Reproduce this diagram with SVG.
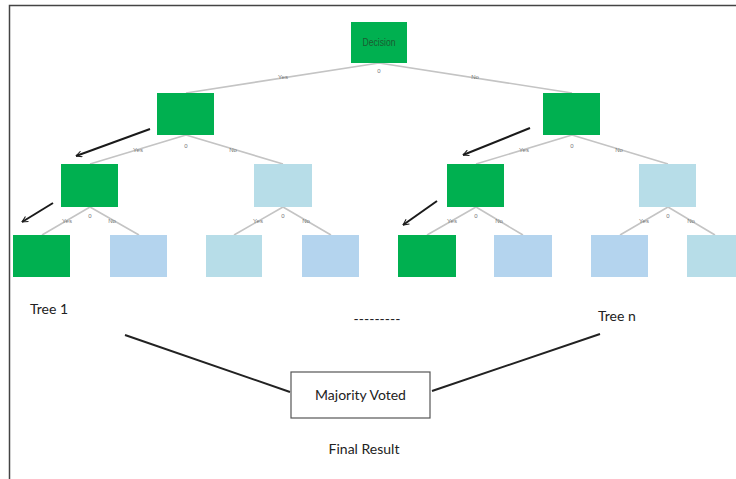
<svg xmlns="http://www.w3.org/2000/svg" width="736" height="479" viewBox="0 0 736 479">
<style>
.g{fill:#00b050}
.c{fill:#b7dde8}
.b{fill:#b4d4ee}
.e{stroke:#c4c4c4;stroke-width:1.6;fill:none}
.lb{font-family:"Liberation Sans",Arial,sans-serif;font-size:6px;fill:#777}
.ar{stroke:#1a1a1a;stroke-width:2;fill:none}
.t{font-family:Lato,"Open Sans",sans-serif;font-size:14px;fill:#222}
</style>
<defs>
<marker id="ah" viewBox="0 0 12 12" refX="11" refY="6" markerWidth="7" markerHeight="7" orient="auto" markerUnits="userSpaceOnUse">
<path d="M1,1 L11,6 L1,11" stroke="#1a1a1a" stroke-width="1.8" fill="none"/>
</marker>
</defs>
<rect width="736" height="479" fill="#fff"/>
<path d="M9.5,479 V5.5 H736" stroke="#444" stroke-width="1.5" fill="none"/>

<g id="connectors">
<path class="e" d="M379,63 L186,93 M379,63 L572,93"/>
<path class="e" d="M186,135 L90,164 M186,135 L283,164"/>
<path class="e" d="M90,207 L42,235 M90,207 L139,235"/>
<path class="e" d="M283,207 L234,235 M283,207 L331,235"/>
<path class="e" d="M572,135 L476,164 M572,135 L668,164"/>
<path class="e" d="M476,207 L427,235 M476,207 L523,235"/>
<path class="e" d="M668,207 L620,235 M668,207 L715,235"/>
<text class="lb" x="283" y="79" text-anchor="middle">Yes</text>
<text class="lb" x="379" y="73" text-anchor="middle">0</text>
<text class="lb" x="475" y="79" text-anchor="middle">No</text>
<text class="lb" x="138" y="152" text-anchor="middle">Yes</text>
<text class="lb" x="186" y="148" text-anchor="middle">0</text>
<text class="lb" x="233" y="152" text-anchor="middle">No</text>
<text class="lb" x="524" y="152" text-anchor="middle">Yes</text>
<text class="lb" x="572" y="148" text-anchor="middle">0</text>
<text class="lb" x="619" y="152" text-anchor="middle">No</text>
<text class="lb" x="67" y="223" text-anchor="middle">Yes</text>
<text class="lb" x="90" y="218" text-anchor="middle">0</text>
<text class="lb" x="112" y="223" text-anchor="middle">No</text>
<text class="lb" x="258" y="223" text-anchor="middle">Yes</text>
<text class="lb" x="283" y="218" text-anchor="middle">0</text>
<text class="lb" x="306" y="223" text-anchor="middle">No</text>
<text class="lb" x="452" y="223" text-anchor="middle">Yes</text>
<text class="lb" x="476" y="218" text-anchor="middle">0</text>
<text class="lb" x="499" y="223" text-anchor="middle">No</text>
<text class="lb" x="644" y="223" text-anchor="middle">Yes</text>
<text class="lb" x="668" y="218" text-anchor="middle">0</text>
<text class="lb" x="691" y="223" text-anchor="middle">No</text>
<path class="ar" d="M150,129 L76,156" marker-end="url(#ah)"/>
<path class="ar" d="M53,203 L22,222" marker-end="url(#ah)"/>
<path class="ar" d="M530,128 L463,155" marker-end="url(#ah)"/>
<path class="ar" d="M437,201 L403,225" marker-end="url(#ah)"/>
<path d="M125,335 L290,392 M432,391 L600,334" stroke="#222" stroke-width="2" fill="none"/>
</g>

<g id="decision"><rect class="g" x="351" y="22" width="56" height="41"/><text x="379" y="46" text-anchor="middle" font-family="'Liberation Sans',Arial,sans-serif" font-size="10" fill="#1d5a30" textLength="33" lengthAdjust="spacingAndGlyphs">Decision</text></g>
<g id="t1-l1"><rect class="g" x="157" y="93" width="57" height="42"/></g>
<g id="t1-l2a"><rect class="g" x="61" y="164" width="57" height="43"/></g>
<g id="t1-l2b"><rect class="c" x="254" y="164" width="58" height="43"/></g>
<g id="t1-l3a"><rect class="g" x="13" y="235" width="57" height="42"/></g>
<g id="t1-l3b"><rect class="b" x="110" y="235" width="57" height="42"/></g>
<g id="t1-l3c"><rect class="c" x="206" y="235" width="56" height="42"/></g>
<g id="t1-l3d"><rect class="b" x="302" y="235" width="57" height="42"/></g>
<g id="tn-l1"><rect class="g" x="543" y="93" width="57" height="42"/></g>
<g id="tn-l2a"><rect class="g" x="447" y="164" width="57" height="43"/></g>
<g id="tn-l2b"><rect class="c" x="639" y="164" width="57" height="43"/></g>
<g id="tn-l3a"><rect class="g" x="398" y="235" width="58" height="42"/></g>
<g id="tn-l3b"><rect class="b" x="494" y="235" width="58" height="42"/></g>
<g id="tn-l3c"><rect class="b" x="591" y="235" width="57" height="42"/></g>
<g id="tn-l3d"><rect class="c" x="687" y="235" width="57" height="42"/></g>

<g id="tree1-label"><text class="t" x="30" y="314">Tree 1</text></g>
<g id="dots"><text class="t" x="377" y="324" text-anchor="middle" font-size="11">---------</text></g>
<g id="treen-label"><text class="t" x="598" y="321">Tree n</text></g>
<g id="majority"><rect x="291" y="372" width="139" height="46" fill="#fff" stroke="#555" stroke-width="1.2"/><text class="t" x="360.5" y="400" text-anchor="middle" font-size="15">Majority Voted</text></g>
<g id="final"><text class="t" x="364" y="454" text-anchor="middle">Final Result</text></g>
</svg>
